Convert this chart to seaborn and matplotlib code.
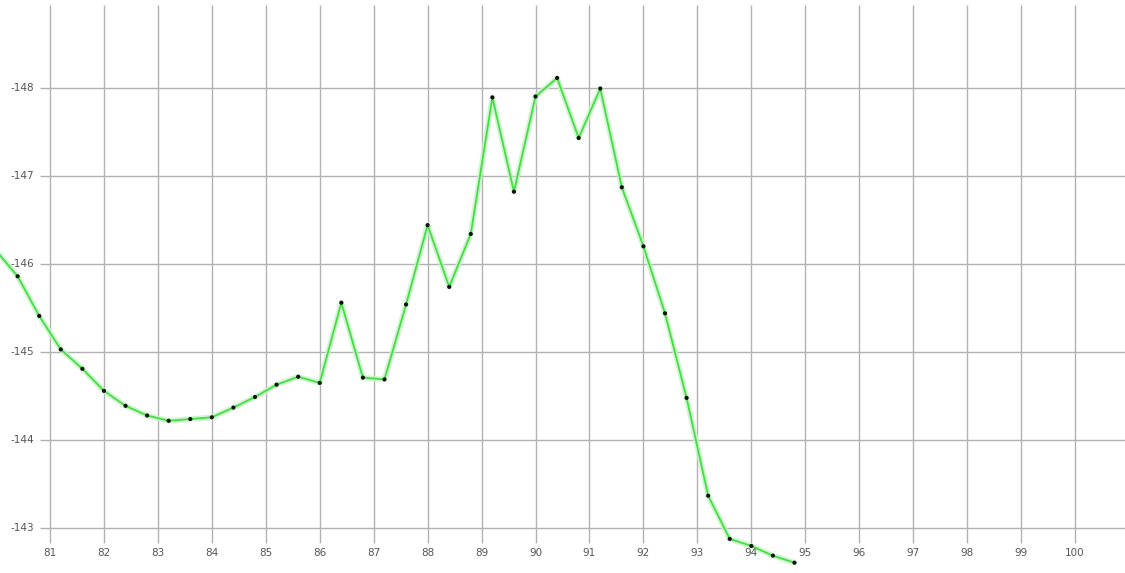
import matplotlib
matplotlib.use("Agg")
import matplotlib.pyplot as plt
import seaborn as sns
import pandas as pd

# ==========================================
#   DATA
# ==========================================
x_vals = [80.0, 80.4, 80.8, 81.2, 81.6, 82.0, 82.4, 82.8, 83.2, 83.6, 84.0,
          84.4, 84.8, 85.2, 85.6, 86.0, 86.4, 86.8, 87.2, 87.6, 88.0,
          88.4, 88.8, 89.2, 89.6, 90.0, 90.4, 90.8, 91.2, 91.6, 92.0,
          92.4, 92.8, 93.2, 93.6, 94.0, 94.4, 94.8]
y_vals = [-146.15, -145.86, -145.41, -145.03, -144.81, -144.56, -144.39, -144.28,
          -144.22, -144.24, -144.26, -144.37, -144.49, -144.63, -144.72,
          -144.65, -145.56, -144.71, -144.69, -145.54, -146.44, -145.74,
          -146.34, -147.89, -146.82, -147.90, -148.11, -147.43, -147.99,
          -146.87, -146.20, -145.44, -144.48, -143.37, -142.88, -142.80,
          -142.69, -142.61]
# measured dots (first one sits outside the view)
dot_x = x_vals[1:]
dot_y = y_vals[1:]

x_ticks = list(range(81, 101))
y_ticks = [-148, -147, -146, -145, -144, -143]
y_tick_labels = ["-148", "-147", "-146", "-145", "-144", "-143"]

df = pd.DataFrame({"x": x_vals, "y": y_vals})
dots = pd.DataFrame({"x": dot_x, "y": dot_y})

# ==========================================
#   FIGURE
# ==========================================
sns.set_style("white")
fig = plt.figure(figsize=(11.25, 5.73), dpi=100)
ax = fig.add_axes([0, 0, 1, 1])
ax.set_xlim(80.073, 100.927)
ax.set_ylim(-142.493, -148.995)  # inverted axis
for s in ax.spines.values():
    s.set_visible(False)
ax.set_xticks([])
ax.set_yticks([])

# grid
ax.vlines(x_ticks, 0.052, 0.991, transform=ax.get_xaxis_transform(),
          color="#b2b2b2", lw=1.0, zorder=1)
ax.hlines(y_ticks, 0.0356, 1.0, transform=ax.get_yaxis_transform(),
          color="#b2b2b2", lw=1.0, zorder=1)

# tick labels drawn inside the plot area
for xt in x_ticks:
    ax.text(xt, 0.035, str(xt), transform=ax.get_xaxis_transform(),
            ha="center", va="center", fontsize=7.5, color="#555555")
for yt, lab in zip(y_ticks, y_tick_labels):
    ax.text(0.0196, yt, lab, transform=ax.get_yaxis_transform(),
            ha="center", va="center", fontsize=7.5, color="#555555")

# curve: soft halo + green line + black dots
sns.lineplot(data=df, x="x", y="y", ax=ax, color="#c6f3c6", lw=4,
             alpha=0.8, zorder=2, sort=False)
sns.lineplot(data=df, x="x", y="y", ax=ax, color="#44dd44", lw=1.3,
             zorder=3, sort=False)
sns.scatterplot(data=dots, x="x", y="y", ax=ax, color="#111111", s=9,
                edgecolor="none", zorder=4)
ax.set_xlabel("")
ax.set_ylabel("")

fig.savefig("out.png", dpi=100)
